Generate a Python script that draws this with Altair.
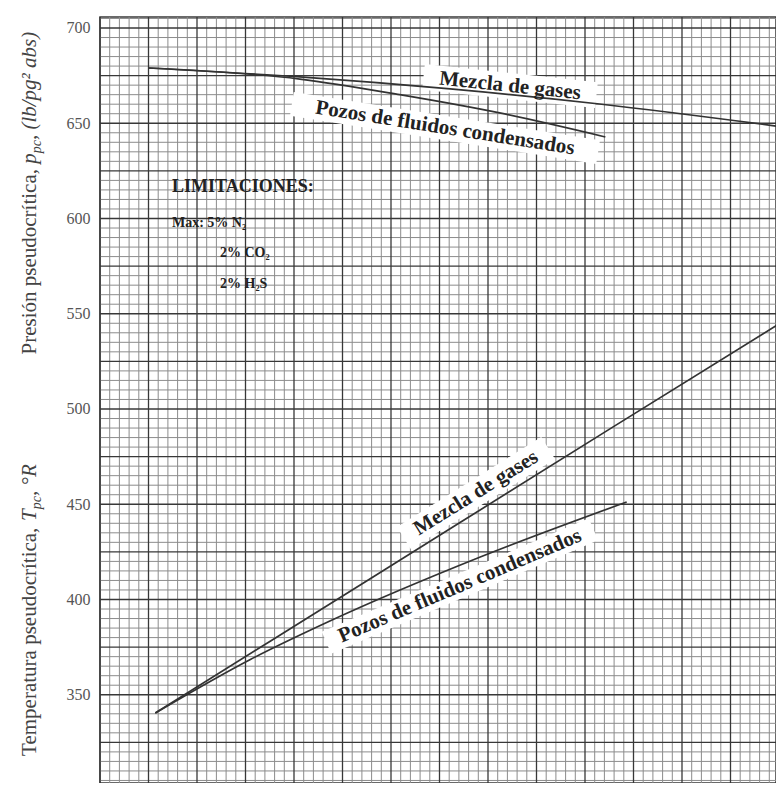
import altair as alt
import pandas as pd
import numpy as np

# ---- Data (x = gas specific gravity, hidden axis) ----
gas_ppc_g = [0.50, 0.656, 0.811, 0.965, 1.155]
gas_ppc_v = [679.0, 674.3, 668.0, 660.1, 648.0]
cond_ppc_g = [0.50, 0.656, 0.759, 0.862, 0.971]
cond_ppc_v = [679.0, 673.2, 665.0, 655.4, 642.8]
gas_tpc_g = [0.507, 0.743, 0.979, 1.155]
gas_tpc_v = [340.4, 415.5, 490.6, 546.2]
cond_tpc_g = [0.507, 0.605, 0.687, 0.842, 0.993]
cond_tpc_v = [340.4, 368.5, 388.7, 422.3, 451.2]

y_ticks = [300, 350, 400, 450, 500, 550, 600, 650, 700]

# curve labels (centre position in data units, angle in degrees)
lab_text = ["Mezcla de gases", "Pozos de fluidos condensados",
            "Mezcla de gases", "Pozos de fluidos condensados"]
lab_g = [0.8727, 0.8057, 0.8376, 0.8211]
lab_v = [669.6, 647.5, 455.9, 407.1]
lab_ang = [6, 9, 328, 337]
# white paper patches behind the labels
band_g1 = [0.7835, 0.6478, 0.7633, 0.6835]
band_v1 = [674.33, 660.21, 432.28, 377.32]
band_g2 = [0.9618, 0.9635, 0.9120, 0.9587]
band_v2 = [664.78, 634.80, 479.53, 436.86]
band_w = [26, 24, 26, 24]

# limitations note
lim_text = ["LIMITACIONES:", "Max: 5% N₂", "2% CO₂", "2% H₂S"]
lim_g = [0.5242, 0.5242, 0.5737, 0.5737]
lim_v = [613.9, 595.5, 579.8, 563.5]
lim_size = [18, 14, 14, 14]

XDOM = [0.45, 0.45 + 676 / 970]
YDOM = [303.67, 705.77]
xs = alt.Scale(domain=XDOM, nice=False, zero=False)
ys = alt.Scale(domain=YDOM, nice=False, zero=False)
yaxis = alt.Axis(values=y_ticks, grid=False, ticks=False, domain=False,
                 labelFont="Liberation Serif", labelFontSize=16,
                 labelColor="#555", labelPadding=10, title="")

def X(f):
    return alt.X(f, scale=xs, axis=None)

def Y(f):
    return alt.Y(f, scale=ys, axis=yaxis)

# grid
gx = np.round(np.arange(0.45, XDOM[1], 0.01), 3)
gy = np.round(np.arange(305, 706, 5), 1)
gx_df = pd.DataFrame({"g": gx, "major": [(i % 5 == 0) for i in range(len(gx))]})
gy_df = pd.DataFrame({"value": gy, "major": [(v % 25 == 0) for v in gy]})

minor_v = alt.Chart(gx_df[~gx_df.major]).mark_rule(color="#8c8c8c", strokeWidth=1).encode(x=X("g:Q"))
minor_h = alt.Chart(gy_df[~gy_df.major]).mark_rule(color="#8c8c8c", strokeWidth=1).encode(y=Y("value:Q"))
major_v = alt.Chart(gx_df[gx_df.major]).mark_rule(color="#383838", strokeWidth=1.3).encode(x=X("g:Q"))
major_h = alt.Chart(gy_df[gy_df.major]).mark_rule(color="#383838", strokeWidth=1.3).encode(y=Y("value:Q"))

bands_df = pd.DataFrame({"g": band_g1, "value": band_v1, "g2": band_g2, "v2": band_v2, "w": band_w})
bands = alt.Chart(bands_df).mark_rule(color="white", strokeCap="butt").encode(
    x=X("g:Q"), x2="g2:Q", y=Y("value:Q"), y2="v2:Q",
    strokeWidth=alt.StrokeWidth("w:Q", scale=None))

rows = []
for name, gg, vv in [("gas_ppc", gas_ppc_g, gas_ppc_v), ("cond_ppc", cond_ppc_g, cond_ppc_v),
                     ("gas_tpc", gas_tpc_g, gas_tpc_v), ("cond_tpc", cond_tpc_g, cond_tpc_v)]:
    for i, (a, b) in enumerate(zip(gg, vv)):
        rows.append({"series": name, "i": i, "g": a, "value": b})
lines_df = pd.DataFrame(rows)
lines = alt.Chart(lines_df).mark_line(color="#333", strokeWidth=1.7, clip=True,
                                      interpolate="monotone").encode(
    x=X("g:Q"), y=Y("value:Q"), detail="series:N", order="i:Q")

labs_df = pd.DataFrame({"t": lab_text, "g": lab_g, "value": lab_v, "ang": lab_ang})
labs = alt.Chart(labs_df).mark_text(font="Liberation Serif", fontWeight="bold", fontSize=21,
                                    color="#222", align="center", baseline="middle").encode(
    x=X("g:Q"), y=Y("value:Q"), text="t:N", angle=alt.Angle("ang:Q", scale=None))

lim_df = pd.DataFrame({"t": lim_text, "g": lim_g, "value": lim_v, "s": lim_size})
lims = alt.Chart(lim_df).mark_text(font="Liberation Serif", fontWeight="bold", color="#222",
                                   align="left", baseline="alphabetic").encode(
    x=X("g:Q"), y=Y("value:Q"), text="t:N", size=alt.Size("s:Q", scale=None))

# rotated axis titles, built from pieces (normal / italic / subscript)
title_pieces = [
    ("Presión pseudocrítica, ", -64, 337.5, 21, "normal"),
    ("p", -64, 146.8, 21, "italic"),
    ("pc", -59, 136.3, 14, "italic"),
    (", (lb/pg² abs)", -64, 123.1, 21, "italic"),
    ("Temperatura pseudocrítica, ", -64, 738.9, 21, "normal"),
    ("T", -64, 503.9, 21, "italic"),
    ("pc", -59, 492.2, 14, "italic"),
    (", °R", -64, 479.0, 21, "italic"),
]
titles = []
for t, px, py, fs, st in title_pieces:
    titles.append(
        alt.Chart(pd.DataFrame({"t": [t]})).mark_text(
            font="Liberation Serif", fontSize=fs, fontStyle=st, color="#444",
            angle=270, align="left", baseline="alphabetic").encode(
            x=alt.value(px), y=alt.value(py), text="t:N"))

chart = alt.layer(minor_v, minor_h, major_v, major_h, bands, lines, labs, lims, *titles).properties(
    width=676, height=766,
    autosize=alt.AutoSizeParams(type="none"),
    padding={"left": 92, "top": 9, "right": 0, "bottom": 0},
    background="white",
).configure_view(stroke="#383838", strokeWidth=1.5)

chart.save("out.html", embed_options={"renderer": "svg", "actions": False})
